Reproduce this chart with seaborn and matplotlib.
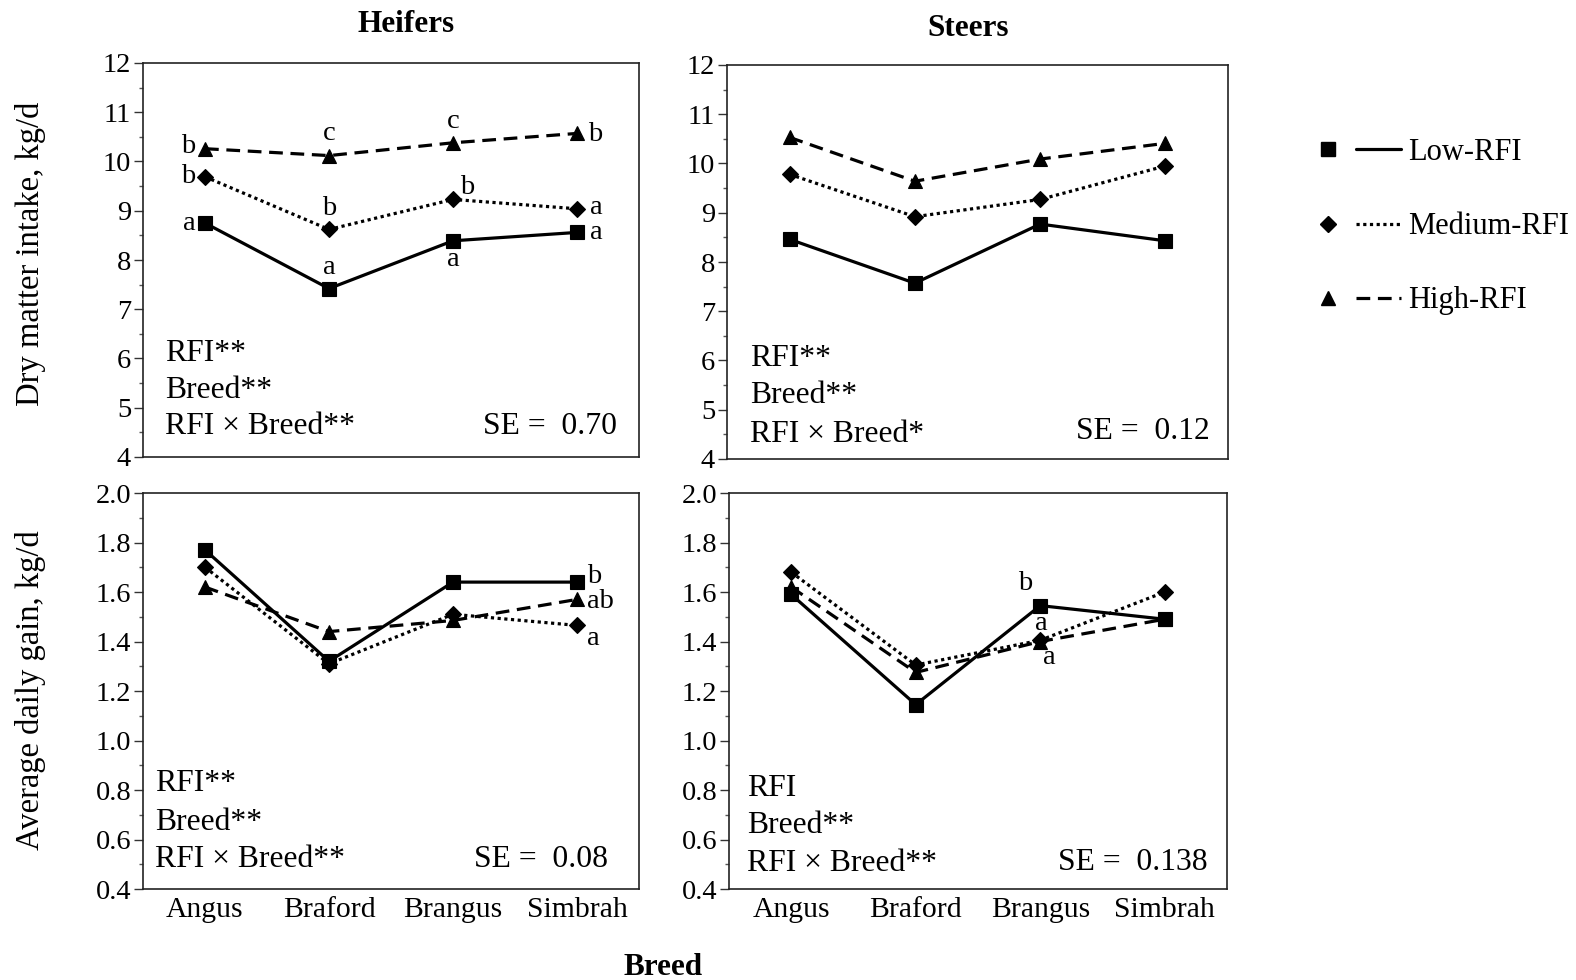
import numpy as np
import pandas as pd
import matplotlib
matplotlib.use("Agg")
import matplotlib.pyplot as plt
import seaborn as sns
from matplotlib.lines import Line2D
from matplotlib.legend_handler import HandlerTuple
from matplotlib.ticker import MultipleLocator, FormatStrFormatter

# ---------------- data ----------------
breeds = ["Angus", "Braford", "Brangus", "Simbrah"]
groups = ["Low-RFI", "Medium-RFI", "High-RFI"]

dmi_heifers_low = [8.75, 7.42, 8.39, 8.56]
dmi_heifers_med = [9.69, 8.62, 9.23, 9.04]
dmi_heifers_high = [10.26, 10.12, 10.38, 10.57]

dmi_steers_low = [8.46, 7.57, 8.77, 8.43]
dmi_steers_med = [9.78, 8.92, 9.27, 9.95]
dmi_steers_high = [10.53, 9.64, 10.09, 10.41]

adg_heifers_low = [1.77, 1.32, 1.64, 1.64]
adg_heifers_med = [1.70, 1.31, 1.51, 1.465]
adg_heifers_high = [1.62, 1.44, 1.485, 1.57]

adg_steers_low = [1.59, 1.145, 1.545, 1.49]
adg_steers_med = [1.68, 1.305, 1.405, 1.60]
adg_steers_high = [1.62, 1.275, 1.40, 1.49]

# significance letters
dmi_heifers_letters_low = ["a", "a", "a", "a"]
dmi_heifers_letters_med = ["b", "b", "b", "a"]
dmi_heifers_letters_high = ["b", "c", "c", "b"]
adg_heifers_letters_low = ["", "", "", "b"]
adg_heifers_letters_med = ["", "", "", "a"]
adg_heifers_letters_high = ["", "", "", "ab"]
adg_steers_letters_low = ["", "", "b", ""]
adg_steers_letters_med = ["", "", "a", ""]
adg_steers_letters_high = ["", "", "a", ""]

stats_dmi_heifers = ["RFI**", "Breed**", "RFI \u00d7 Breed**"]
stats_dmi_steers = ["RFI**", "Breed**", "RFI \u00d7 Breed*"]
stats_adg_heifers = ["RFI**", "Breed**", "RFI \u00d7 Breed**"]
stats_adg_steers = ["RFI", "Breed**", "RFI \u00d7 Breed**"]
se_dmi_heifers = "0.70"
se_dmi_steers = "0.12"
se_adg_heifers = "0.08"
se_adg_steers = "0.138"

# ---------------- style ----------------
sns.set_theme(style="ticks")
plt.rcParams["font.family"] = ["Liberation Serif", "DejaVu Serif"]
for k in ["text.color", "axes.labelcolor", "xtick.color", "ytick.color",
          "axes.edgecolor"]:
    plt.rcParams[k] = "black"
FS = 20.5       # tick numbers, letters
FS_X = 21.3     # category labels
FS_ST = 22.8    # stats text
FS_LEG = 22.0
FS_YL = 23.5

W, H = 1576, 980
fig = plt.figure(figsize=(W / 100, H / 100), dpi=100)


def add_ax(l, r, t, b):
    return fig.add_axes([l / W, 1 - b / H, (r - l) / W, (b - t) / H])


ax_tl = add_ax(143, 639, 63, 457)
ax_tr = add_ax(727, 1228, 65, 459)
ax_bl = add_ax(143, 639, 493, 889)
ax_br = add_ax(729, 1227, 493, 889)

LW = 2.3
series_style = {
    "Low-RFI": dict(marker="s", markersize=9.4, linestyle="-"),
    "Medium-RFI": dict(marker="D", markersize=7.7, linestyle=(0, (1.0, 1.1))),
    "High-RFI": dict(marker="^", markersize=10.4, linestyle=(0, (4.3, 2.4))),
}


def draw_series(ax, values, group):
    st = series_style[group]
    df = pd.DataFrame({"Breed": breeds, "value": values})
    sns.lineplot(data=df, x="Breed", y="value", ax=ax, color="black",
                 linewidth=LW, linestyle=st["linestyle"], marker=st["marker"],
                 markersize=st["markersize"], markeredgecolor="black",
                 markerfacecolor="black", markeredgewidth=0.8,
                 errorbar=None, sort=False)


def annotate(ax, values, letters, offsets_px):
    for i, (v, lt) in enumerate(zip(values, letters)):
        if not lt:
            continue
        dx, dy = offsets_px[i]
        ax.annotate(lt, xy=(breeds[i], v), xytext=(dx * 0.72, dy * 0.72),
                    textcoords="offset points", ha="center", va="center",
                    fontsize=FS, color="black")


def style_axis(ax, ylim, major, minor, fmt, show_x):
    ax.set_xlim(-0.5, 3.5)
    ax.set_ylim(*ylim)
    ax.yaxis.set_major_locator(MultipleLocator(major))
    ax.yaxis.set_minor_locator(MultipleLocator(minor))
    ax.yaxis.set_major_formatter(FormatStrFormatter(fmt))
    ax.tick_params(axis="y", which="major", direction="out", length=6.5,
                   width=1.0, pad=2, labelsize=FS, color="#333333")
    ax.tick_params(axis="y", which="minor", direction="out", length=3,
                   width=1.0, color="#555555")
    ax.tick_params(axis="x", length=0, pad=6, labelsize=FS_X,
                   labelbottom=show_x)
    ax.set_xlabel("")
    ax.set_ylabel("")
    for s in ax.spines.values():
        s.set_visible(True)
        s.set_color("#222222")
        s.set_linewidth(1.2)


def stats_text(ax, lines, ys, x, se, se_x, se_y):
    for ln, y in zip(lines, ys):
        ax.text(x, y, ln, transform=ax.transAxes, ha="left", va="center",
                fontsize=FS_ST)
    ax.text(se_x, se_y, "SE =  " + se, transform=ax.transAxes, ha="right",
            va="center", fontsize=FS_ST)


# ---- top left: DMI heifers
for vals, g in zip([dmi_heifers_low, dmi_heifers_med, dmi_heifers_high], groups):
    draw_series(ax_tl, vals, g)
annotate(ax_tl, dmi_heifers_low, dmi_heifers_letters_low,
         [(-16, 0), (0, 21), (0, -19), (19, 0)])
annotate(ax_tl, dmi_heifers_med, dmi_heifers_letters_med,
         [(-17, 0), (0, 21), (14, 12), (19, 1)])
annotate(ax_tl, dmi_heifers_high, dmi_heifers_letters_high,
         [(-17, 2), (0, 22), (0, 21), (18, -1)])
style_axis(ax_tl, (4, 12), 1, 0.5, "%d", False)
stats_text(ax_tl, stats_dmi_heifers, [0.262, 0.170, 0.078], 0.044,
           se_dmi_heifers, 0.955, 0.078)

# ---- top right: DMI steers
for vals, g in zip([dmi_steers_low, dmi_steers_med, dmi_steers_high], groups):
    draw_series(ax_tr, vals, g)
style_axis(ax_tr, (4, 12), 1, 0.5, "%d", False)
stats_text(ax_tr, stats_dmi_steers, [0.254, 0.161, 0.061], 0.046,
           se_dmi_steers, 0.963, 0.070)

# ---- bottom left: ADG heifers
for vals, g in zip([adg_heifers_low, adg_heifers_med, adg_heifers_high], groups):
    draw_series(ax_bl, vals, g)
annotate(ax_bl, adg_heifers_low, adg_heifers_letters_low, [None, None, None, (17, 6)])
annotate(ax_bl, adg_heifers_med, adg_heifers_letters_med, [None, None, None, (16, -13)])
annotate(ax_bl, adg_heifers_high, adg_heifers_letters_high, [None, None, None, (23, -2)])
style_axis(ax_bl, (0.4, 2.0), 0.2, 0.1, "%.1f", True)
stats_text(ax_bl, stats_adg_heifers, [0.267, 0.169, 0.075], 0.024,
           se_adg_heifers, 0.938, 0.075)

# ---- bottom right: ADG steers
for vals, g in zip([adg_steers_low, adg_steers_med, adg_steers_high], groups):
    draw_series(ax_br, vals, g)
annotate(ax_br, adg_steers_low, adg_steers_letters_low, [None, None, (-15, 22), None])
annotate(ax_br, adg_steers_med, adg_steers_letters_med, [None, None, (1, 17), None])
annotate(ax_br, adg_steers_high, adg_steers_letters_high, [None, None, (9, -16), None])
style_axis(ax_br, (0.4, 2.0), 0.2, 0.1, "%.1f", True)
stats_text(ax_br, stats_adg_steers, [0.255, 0.161, 0.065], 0.036,
           se_adg_steers, 0.961, 0.067)

# y labels
fig.text(31 / W, 1 - 254 / H, "Dry matter intake, kg/d", rotation=90,
         ha="center", va="center", fontsize=FS_YL)
fig.text(31 / W, 1 - 690 / H, "Average daily gain, kg/d", rotation=90,
         ha="center", va="center", fontsize=FS_YL)

# titles
fig.text(406 / W, 1 - 24 / H, "Heifers", ha="center", va="center",
         fontsize=22.5, fontweight="bold")
fig.text(968 / W, 1 - 29 / H, "Steers", ha="center", va="center",
         fontsize=22.5, fontweight="bold")
fig.text(663 / W, 1 - 967 / H, "Breed", ha="center", va="center",
         fontsize=22.5, fontweight="bold")

# legend
handles = []
for g in groups:
    st = series_style[g]
    m = Line2D([], [], marker=st["marker"], markersize=st["markersize"],
               color="black", linestyle="none", markeredgecolor="black")
    l = Line2D([], [], color="black", linewidth=LW, linestyle=st["linestyle"])
    handles.append((m, l))
fig.legend(handles, groups, handler_map={tuple: HandlerTuple(ndivide=None, pad=0.18)},
           loc="upper left", bbox_to_anchor=(1306 / W, 1 - 138 / H),
           frameon=False, borderpad=0, borderaxespad=0, handlelength=3.12,
           handletextpad=0.23, labelspacing=1.48, fontsize=FS_LEG)

fig.savefig("out.png", dpi=100)
